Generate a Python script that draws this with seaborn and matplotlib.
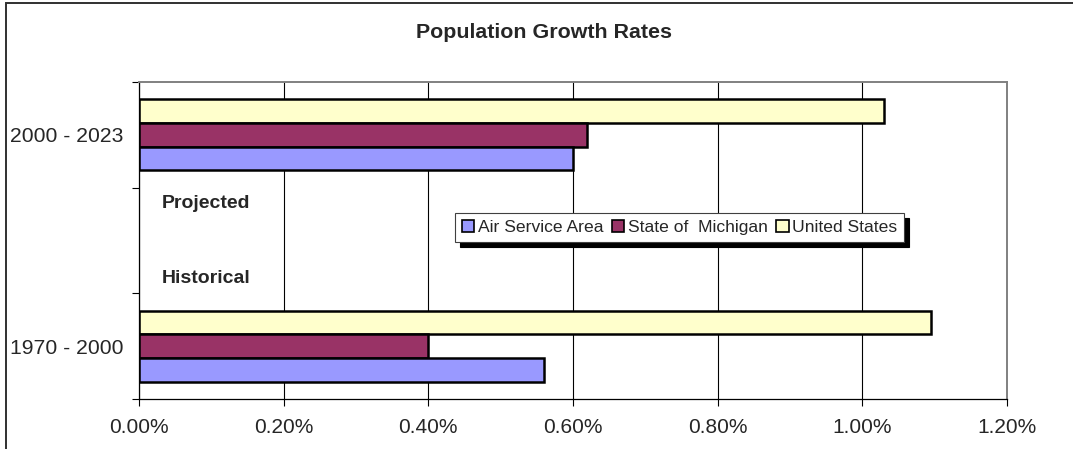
import pandas as pd
import seaborn as sns
import matplotlib.pyplot as plt
from matplotlib.patches import Rectangle
from matplotlib.ticker import FixedLocator, FuncFormatter

# data (growth rate, %)
periods = ["2000 - 2023", " ", "1970 - 2000"]
series = ["Air Service Area", "State of  Michigan", "United States"]
air_service = [0.60, None, 0.56]
michigan = [0.62, None, 0.40]
united_states = [1.03, None, 1.095]
colors = ["#9999FF", "#993366", "#FFFFCC"]
x_ticks = [0.0, 0.2, 0.4, 0.6, 0.8, 1.0, 1.2]


def build_frame():
     rows = []
     for name, vals in zip(series, [air_service, michigan, united_states]):
          for p, v in zip(periods, vals):
               if v is not None:
                    rows.append({"Period": p, "Series": name, "Rate": v})
     return pd.DataFrame(rows)


sns.set_style("white")
plt.rcParams["font.family"] = ["Liberation Sans", "DejaVu Sans"]

df = build_frame()
fig = plt.figure(figsize=(10.73, 4.49), dpi=100)
ax = fig.add_axes([139 / 1073, 1 - 399 / 449, 868 / 1073, 317 / 449])

# top bar in each group is US, so draw in reverse order
draw_order = series[::-1]
palette = dict(zip(series, colors))
sns.barplot(data=df, x="Rate", y="Period", hue="Series", order=periods,
            hue_order=draw_order, palette=palette, orient="h", width=0.67,
            edgecolor="black", linewidth=1.8, saturation=1, ax=ax, legend=False)

ax.set_xlim(0, 1.2)
ax.xaxis.set_major_locator(FixedLocator(x_ticks))
ax.xaxis.set_major_formatter(FuncFormatter(lambda v, _: f"{v:.2f}%"))
ax.grid(axis="x", color="black", linewidth=0.8)
ax.grid(axis="y", visible=False)
ax.set_axisbelow(True)
ax.set_xlabel("")
ax.set_ylabel("")

ax.tick_params(axis="x", which="major", bottom=True, length=5, width=0.8,
               direction="out", labelsize=15, pad=9, color="black")
ax.tick_params(axis="y", which="major", left=False, length=0, labelsize=15.2,
               pad=11.5)
ax.yaxis.set_minor_locator(FixedLocator([-0.5, 0.5, 1.5, 2.5]))
ax.tick_params(axis="y", which="minor", left=True, length=5, width=0.8,
               direction="out", color="black")

for side in ["left", "bottom"]:
     ax.spines[side].set_color("black")
     ax.spines[side].set_linewidth(0.9)
for side in ["right", "top"]:
     ax.spines[side].set_visible(True)
     ax.spines[side].set_color("#808080")
     ax.spines[side].set_linewidth(1.4)

# section labels
ax.text(0.0265, 0.618, "Projected", transform=ax.transAxes, fontsize=14,
        fontweight="bold", va="center", ha="left")
ax.text(0.0265, 0.379, "Historical", transform=ax.transAxes, fontsize=14,
        fontweight="bold", va="center", ha="left")

# legend in the original series order
handles = [Rectangle((0, 0), 1, 1, facecolor=c, edgecolor="black", linewidth=1.2)
           for c in colors]
leg = ax.legend(handles, series, ncol=3, loc="upper left",
                bbox_to_anchor=(0.364, 0.587), borderaxespad=0, fontsize=12.6,
                frameon=True, fancybox=False, handlelength=0.7, handleheight=0.7,
                handletextpad=0.2, columnspacing=0.5, borderpad=0.4,
                shadow={"ox": 3.5, "oy": -3.5, "color": "black", "alpha": 1})
leg.get_frame().set_edgecolor("#404040")
leg.get_frame().set_linewidth(0.8)

fig.text(544 / 1073, 1 - 32 / 449, "Population Growth Rates", ha="center",
         va="center", fontsize=15.4, fontweight="bold")

# chart area border (left and top edges visible in the crop)
fig.patches.append(Rectangle((6 / 1073, -0.2), 1.2, 1 - 3 / 449 + 0.2,
                             transform=fig.transFigure, fill=False,
                             edgecolor="#303030", linewidth=1.4))

fig.savefig("out.png", dpi=100)
